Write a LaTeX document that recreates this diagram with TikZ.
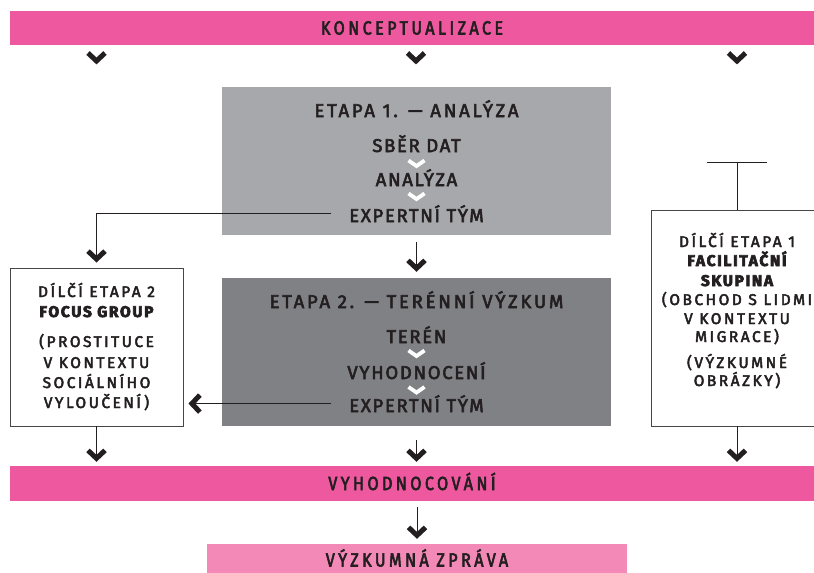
\documentclass[tikz,border=0pt]{standalone}
\usepackage{fontspec}
\setmainfont{Fira Sans}
\newfontfamily\spaced{Fira Sans}[LetterSpace=9,FakeBold=3]
\newfontfamily\wide{Fira Sans}[LetterSpace=15,FakeBold=3]
\newfontfamily\sidefont{Fira Sans}[LetterSpace=16,FakeBold=3]
\newfontfamily\sidebold{Fira Sans}[LetterSpace=11,FakeBold=4]
\newfontfamily\narrow{Fira Sans}[FakeStretch=0.85,LetterSpace=18,FakeBold=3]
\usetikzlibrary{arrows.meta,positioning}
\definecolor{barpink}{RGB}{238,88,158}
\definecolor{lightpink}{RGB}{242,137,183}
\definecolor{greyone}{RGB}{167,168,172}
\definecolor{greytwo}{RGB}{128,129,133}
\definecolor{ink}{RGB}{35,31,32}
\definecolor{frame}{RGB}{70,70,72}

\begin{document}
\begin{tikzpicture}[x=1pt,y=-1pt,
  bar/.style={rectangle,inner sep=0pt,text=ink,text height=13pt,text depth=0pt,
    font=\narrow\fontsize{19}{20}\selectfont},
  stage/.style={rectangle,inner sep=0pt},
  side/.style={rectangle,draw=frame,line width=0.9pt,fill=white,inner sep=0pt},
  label/.style={inner sep=0pt,anchor=base,text=ink,font=\spaced\fontsize{18.5}{20}\selectfont},
  title/.style={label,font=\wide\fontsize{18.5}{20}\selectfont},
  sidelabel/.style={inner sep=0pt,anchor=base,text=ink,font=\sidefont\fontsize{15.5}{18}\selectfont},
  sidehead/.style={sidelabel,font=\sidebold\bfseries\fontsize{15.5}{18}\selectfont},
  flow/.style={draw=ink,line width=0.8pt,-{Straight Barb[length=8pt,width=17pt,line width=5pt]}},
  link/.style={draw=ink,line width=0.8pt},
  vmark/.style={draw=ink,line width=5pt},
  vwhite/.style={draw=white,line width=3.8pt}]
\useasboundingbox (0,0) rectangle (814,573);

% bars and boxes
\node[bar,fill=barpink,minimum width=804pt,minimum height=34pt] (konc) at (412,28) {KONCEPTUALIZACE};
\node[stage,fill=greyone,minimum width=389pt,minimum height=148pt] (etapa1) at (416.5,161) {};
\node[stage,fill=greytwo,minimum width=389pt,minimum height=148pt] (etapa2) at (416.5,352) {};
\node[side,minimum width=173pt,minimum height=158pt] (focus) at (96.5,347) {};
\node[side,minimum width=172pt,minimum height=216pt] (facil) at (737,318) {};
\node[bar,fill=barpink,minimum width=804pt,minimum height=35pt] (vyhod) at (412,483.5) {VYHODNOCOVÁNÍ};
\node[bar,fill=lightpink,minimum width=420pt,minimum height=32pt] (zprava) at (417,560) {VÝZKUMNÁ ZPRÁVA};

% etapa 1
\node[title] (e1title) at (416.5,117) {ETAPA 1. — ANALÝZA};
\node[label] (e1sber) at (416.5,152) {SBĚR DAT};
\node[label] (e1anal) at (416.5,186) {ANALÝZA};
\node[label] (e1team) at (416.5,222) {EXPERTNÍ TÝM};
\draw[vwhite] (408.5,160.5) -- (416.5,166) -- (424.5,160.5);
\draw[vwhite] (408.5,193.5) -- (416.5,199) -- (424.5,193.5);

% etapa 2
\node[title] (e2title) at (416.5,308) {ETAPA 2. — TERÉNNÍ VÝZKUM};
\node[label] (e2teren) at (416.5,343) {TERÉN};
\node[label] (e2vyhod) at (416.5,379) {VYHODNOCENÍ};
\node[label] (e2team) at (416.5,412) {EXPERTNÍ TÝM};
\draw[vwhite] (408.5,350.5) -- (416.5,356) -- (424.5,350.5);
\draw[vwhite] (408.5,387) -- (416.5,392.5) -- (424.5,387);

% focus group
\node[sidelabel] (fo1) at (96.5,297) {DÍLČÍ ETAPA 2};
\node[sidehead] (fo2) at (96.5,317) {FOCUS GROUP};
\node[sidelabel] (fo3) at (96.5,347) {(PROSTITUCE};
\node[sidelabel] (fo4) at (96.5,368) {V KONTEXTU};
\node[sidelabel] (fo5) at (96.5,388) {SOCIÁLNÍHO};
\node[sidelabel] (fo6) at (96.5,408) {VYLOUČENÍ)};

% facilitacni skupina
\node[sidelabel] (fa1) at (737,247) {DÍLČÍ ETAPA 1};
\node[sidehead] (fa2) at (737,266) {FACILITAČNÍ};
\node[sidehead] (fa3) at (737,286) {SKUPINA};
\node[sidelabel] (fa4) at (737,305) {(OBCHOD S LIDMI};
\node[sidelabel] (fa5) at (737,324) {V KONTEXTU};
\node[sidelabel] (fa6) at (737,342) {MIGRACE)};
\node[sidelabel] (fa7) at (737,368) {(VÝZKUMNÉ};
\node[sidelabel] (fa8) at (737,386) {OBRÁZKY)};

% chevrons under the top bar
\draw[vmark] (88,53) -- (96.5,61) -- (105,53);
\draw[vmark] (407.5,53) -- (416,61) -- (424.5,53);
\draw[vmark] (728.5,53) -- (737,61) -- (745.5,53);

% connectors
\coordinate (tleft) at (707,162);
\coordinate (tright) at (767,162);
\draw[link] (tleft) -- (tright);
\draw[link] (facil.north |- tleft) -- (facil.north);
\draw[flow,shorten <=18pt,shorten >=5pt] (e1team.west) -| (focus.north);
\draw[flow,shorten <=18pt,shorten >=5pt] (e2team.west) -- (e2team.west -| focus.east);
\draw[flow,shorten <=7pt,shorten >=6pt] (etapa1.south) -- (etapa2.north);
\draw[flow,shorten <=14pt,shorten >=4pt] (etapa2.south) -- (etapa2.south |- vyhod.north);
\draw[flow,shorten >=4pt] (focus.south) -- (focus.south |- vyhod.north);
\draw[flow,shorten >=4pt] (facil.south) -- (facil.south |- vyhod.north);
\draw[flow,shorten <=6pt,shorten >=5pt] (zprava.north |- vyhod.south) -- (zprava.north);
\end{tikzpicture}
\end{document}
